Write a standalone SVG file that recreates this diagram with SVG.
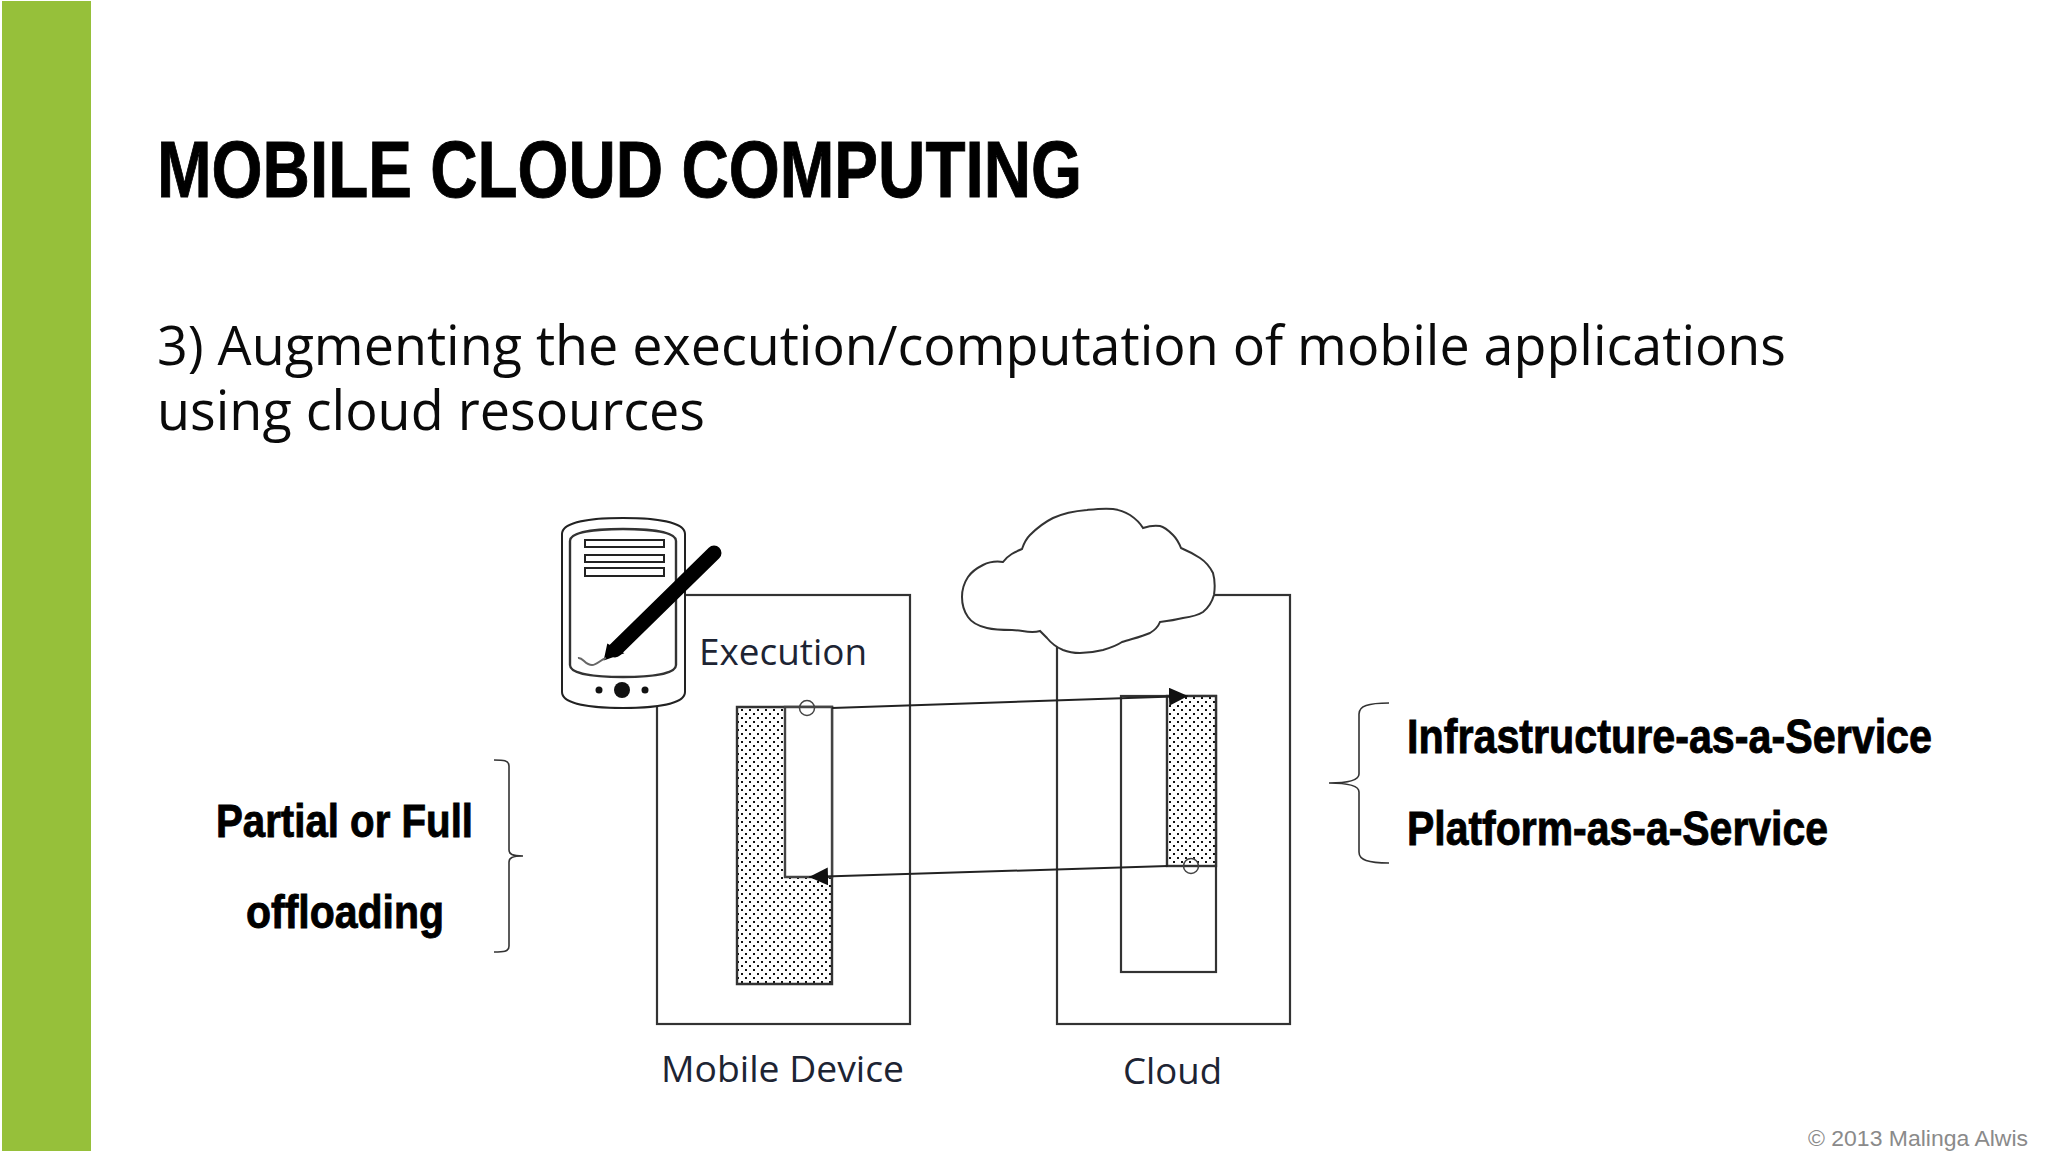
<svg xmlns="http://www.w3.org/2000/svg" width="2048" height="1152" viewBox="0 0 2048 1152">
<defs>
<pattern id="dots" width="8" height="8" patternUnits="userSpaceOnUse"><rect width="8" height="8" fill="#fff"/><rect x="1" y="1" width="2" height="2" fill="#111"/><rect x="5" y="5" width="2" height="2" fill="#111"/></pattern>
<marker id="ah" markerWidth="20" markerHeight="18" refX="19" refY="9" orient="auto" markerUnits="userSpaceOnUse"><path d="M0 0L19 9L0 18Z" fill="#111"/></marker>
</defs>
<style>
.b{font-family:"Liberation Sans",Arial,sans-serif;font-weight:700;fill:#000;stroke:#000;stroke-width:0.9}
.body{font-family:"Open Sans",sans-serif;fill:#0a0a0a;font-size:55px}
.l{fill:none;stroke:#333;stroke-width:2.2}
.t{font-family:"Open Sans",sans-serif;fill:#1d2433;font-size:37px}
.br{fill:none;stroke:#333;stroke-width:1.6}
</style>
<rect width="2048" height="1152" fill="#fff"/>
<rect x="2" y="1" width="89" height="1150" fill="#96c03a"/>
<text x="157" y="197" class="b" font-size="80" textLength="925" lengthAdjust="spacingAndGlyphs">MOBILE CLOUD COMPUTING</text>
<text x="157" y="365" class="body" textLength="1629" lengthAdjust="spacingAndGlyphs">3) Augmenting the execution/computation of mobile applications</text>
<text x="157" y="430" class="body" textLength="548" lengthAdjust="spacingAndGlyphs">using cloud resources</text>
<g id="mobile"><rect x="657" y="595" width="253" height="429" class="l"/><path d="M737 707H832V984H737Z" fill="url(#dots)" stroke="#333" stroke-width="2.4"/><path d="M785 707H832V877H785Z" fill="#fff" stroke="#444" stroke-width="2.4"/><circle cx="807" cy="708" r="7.5" fill="none" stroke="#444" stroke-width="1.5"/></g>
<g id="cloud-box"><rect x="1057" y="595" width="233" height="429" class="l"/><rect x="1121" y="696" width="95" height="276" fill="#fff" stroke="#333" stroke-width="2.2"/><rect x="1167" y="696" width="49" height="170" fill="url(#dots)" stroke="#333" stroke-width="2.4"/><circle cx="1191" cy="866" r="7.5" fill="none" stroke="#444" stroke-width="1.5"/></g>
<g id="cloud"><path d="M1040 631C1030 634 1022 630 1012 630C1003 630 995 630 987 628C978 626 972 623 968 617C963 610 962 604 962 597C962 589 964 583 968 577C972 571 977 568 983 565C989 562 996 561 1003 562C1008 555 1015 552 1022 549C1024 543 1026 539 1030 535C1037 528 1045 522 1053 518C1064 513 1075 511 1087 510C1096 509 1104 508 1113 509C1120 510 1125 512 1130 515C1136 519 1140 523 1143 528C1149 526 1154 525 1160 526C1165 527 1169 531 1173 535C1177 539 1179 543 1181 548C1188 551 1194 554 1200 558C1206 562 1210 567 1213 573C1215 580 1215 588 1214 595C1212 602 1208 608 1203 612C1197 616 1190 617 1183 618C1175 620 1168 621 1160 622C1158 627 1155 630 1150 633C1141 637 1131 639 1122 642C1116 646 1110 648 1103 650C1095 652 1088 653 1080 653C1074 653 1068 652 1063 650C1056 647 1051 643 1047 638Z" fill="#fff" stroke="#333" stroke-width="2"/></g>
<g id="phone"><path d="M562 534C562 522 590 518 623 518C656 518 685 522 685 534V692C685 704 656 708 623 708C590 708 562 704 562 692Z" fill="#fff" stroke="#222" stroke-width="2"/><path d="M570 541C570 532 595 529 623 529C651 529 676 532 676 541V665C676 674 651 677 623 677C595 677 570 674 570 665Z" fill="#fff" stroke="#333" stroke-width="2.4"/><path d="M585 540H664V547H585ZM585 555H664V562H585ZM585 568H664V576H585Z" fill="#fff" stroke="#222" stroke-width="2"/><circle cx="622" cy="690" r="8" fill="#111"/><circle cx="599" cy="690" r="3.5" fill="#111"/><circle cx="645" cy="690" r="3.5" fill="#111"/><path d="M714 553L615 650" fill="none" stroke="#000" stroke-width="15" stroke-linecap="round"/><path d="M608 645L605 659L622 653Z" fill="#000" stroke="#000" stroke-width="2"/><path d="M578 658C583 657 585 665 592 665C597 665 600 660 606 658" fill="none" stroke="#666" stroke-width="2"/></g>
<text x="699" y="665" class="t" textLength="168" lengthAdjust="spacingAndGlyphs">Execution</text>
<text x="661" y="1082" class="t" textLength="243" lengthAdjust="spacingAndGlyphs">Mobile Device</text>
<text x="1123" y="1084" class="t" textLength="99" lengthAdjust="spacingAndGlyphs">Cloud</text>
<g id="connectors"><path d="M832 708L1188 696" fill="none" stroke="#222" stroke-width="2" marker-end="url(#ah)"/><path d="M1168 866L809 877" fill="none" stroke="#222" stroke-width="2" marker-end="url(#ah)"/></g>
<path class="br" d="M494 760C503 760 509 760 509 766V850C509 854 512 856 523 856C512 856 509 858 509 862V946C509 952 503 952 494 952"/>
<path class="br" d="M1389 703C1368 703 1359 706 1359 714V774C1359 780 1350 783 1329 783C1350 783 1359 786 1359 792V852C1359 860 1368 863 1389 863"/>
<text x="216" y="837" class="b" font-size="47" textLength="257" lengthAdjust="spacingAndGlyphs">Partial or Full</text>
<text x="246" y="928" class="b" font-size="47" textLength="198" lengthAdjust="spacingAndGlyphs">offloading</text>
<text x="1407" y="753" class="b" font-size="48" textLength="525" lengthAdjust="spacingAndGlyphs">Infrastructure-as-a-Service</text>
<text x="1407" y="845" class="b" font-size="48" textLength="421" lengthAdjust="spacingAndGlyphs">Platform-as-a-Service</text>
<text x="1808" y="1146" font-family="Liberation Sans,Arial,sans-serif" font-size="22" fill="#8a8a8a" textLength="220" lengthAdjust="spacingAndGlyphs">© 2013 Malinga Alwis</text>
</svg>
